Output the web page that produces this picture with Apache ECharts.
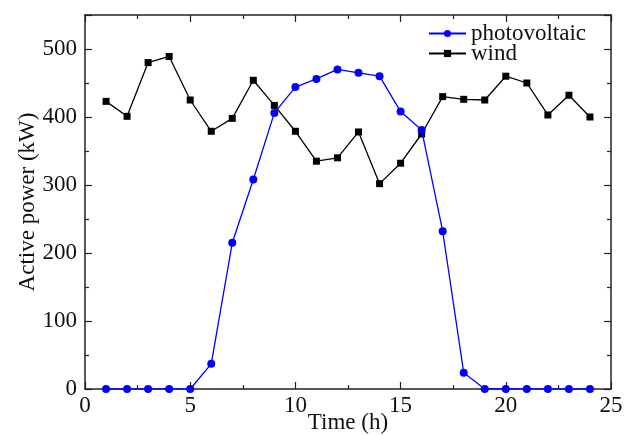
<!DOCTYPE html>
<html>
<head>
<meta charset="utf-8">
<script src="https://cdn.jsdelivr.net/npm/echarts@6/dist/echarts.min.js"></script>
<style>
  html, body { margin: 0; padding: 0; background: #fff; }
  #main { width: 627px; height: 435px; }
</style>
</head>
<body>
<div id="main"></div>
<script>
// hours of the day
var hours = [1, 2, 3, 4, 5, 6, 7, 8, 9, 10, 11, 12, 13, 14, 15, 16, 17, 18, 19, 20, 21, 22, 23, 24];
// active power, kW
var pvPower = [0, 0, 0, 0, 0, 37, 215, 308, 406, 444, 456, 470, 465, 460, 408, 381, 232, 24, 0, 0, 0, 0, 0, 0];
var windPower = [423, 401, 480, 489, 425, 379, 398, 454, 417, 379, 335, 340, 378, 302, 332, 375, 430, 426, 425, 460, 450, 403, 432, 400];

function pairs(xs, ys) {
    return xs.map(function (x, i) { return [x, ys[i]]; });
}

var font = 'Liberation Serif';
var axisColor = '#222';

var myChart = echarts.init(document.getElementById('main'));

var baseAxis = {
    axisLine: { show: true, onZero: false, lineStyle: { color: axisColor, width: 1.5 } },
    axisTick: { show: true, inside: true, length: 7, lineStyle: { color: axisColor, width: 1.2 } },
    minorTick: { show: true, splitNumber: 2, length: 4, lineStyle: { color: axisColor, width: 1.2 } },
    splitLine: { show: false },
    axisLabel: { color: '#111', fontFamily: font, fontSize: 23, margin: 5 }
};

var option = {
    backgroundColor: '#fff',
    animation: false,
    grid: { left: 85, right: 16, top: 15, bottom: 46, outerBoundsMode: 'none', containLabel: false },
    legend: {
        left: 428,
        top: 22,
        padding: 0,
        orient: 'vertical',
        itemWidth: 37,
        itemHeight: 9,
        itemGap: -3,
        textStyle: { color: '#111', fontFamily: font, fontSize: 23 },
        data: ['photovoltaic', 'wind']
    },
    xAxis: [
        Object.assign({}, baseAxis, {
            type: 'value', min: 0, max: 25, interval: 5,
            name: 'Time (h)', nameLocation: 'middle', nameGap: 22, nameMoveOverlap: false,
            nameTextStyle: { color: '#111', fontFamily: font, fontSize: 23, verticalAlign: 'top' }
        }),
        Object.assign({}, baseAxis, {
            type: 'value', min: 0, max: 25, interval: 5, position: 'top',
            axisLabel: { show: false }
        })
    ],
    yAxis: [
        Object.assign({}, baseAxis, {
            type: 'value', min: 0, max: 550, interval: 100,
            axisLabel: Object.assign({}, baseAxis.axisLabel, { margin: 8, showMaxLabel: false }),
            name: 'Active power (kW)', nameLocation: 'middle', nameGap: 46, nameMoveOverlap: false,
            nameTextStyle: { color: '#111', fontFamily: font, fontSize: 23 }
        }),
        Object.assign({}, baseAxis, {
            type: 'value', min: 0, max: 550, interval: 100, position: 'right',
            axisLabel: { show: false }
        })
    ],
    series: [
        {
            name: 'photovoltaic',
            type: 'line',
            data: pairs(hours, pvPower),
            symbol: 'circle',
            symbolSize: 8,
            itemStyle: { color: '#0000ff' },
            lineStyle: { color: '#0000ff', width: 1.3 },
            z: 3
        },
        {
            name: 'wind',
            type: 'line',
            data: pairs(hours, windPower),
            symbol: 'rect',
            symbolSize: 7,
            itemStyle: { color: '#000' },
            lineStyle: { color: '#000', width: 1.3 },
            z: 2
        }
    ]
};
myChart.setOption(option);
</script>
</body>
</html>
